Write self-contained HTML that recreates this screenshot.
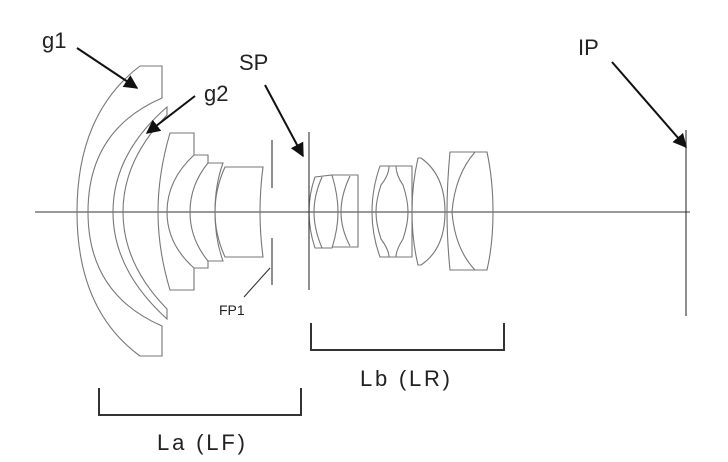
<!DOCTYPE html>
<html><head><meta charset="utf-8"><style>
html,body{margin:0;padding:0;background:#fff;}
svg{display:block;}
text{font-family:"Liberation Sans","Noto Sans CJK JP",sans-serif;fill:#222;}
</style></head><body>
<svg width="728" height="462" viewBox="0 0 728 462" xmlns="http://www.w3.org/2000/svg">
<defs><marker id="ah" viewBox="0 0 10 10" refX="9" refY="5" markerWidth="7" markerHeight="7" orient="auto"><path d="M0,0 L10,5 L0,10 z" fill="#111"/></marker></defs>
<line x1="35" y1="212" x2="690" y2="212" stroke="#333" stroke-width="1"/>
<g fill="none" stroke="#777" stroke-width="1.1">
<path d="M140,66 L162,66 L162,98 Q88,130 88,212 Q88,294 162,326 L162,356 L140,356 Q77,310 77,212 Q77,114 140,66 Z"/>
<path d="M167,107 L167,115 Q123,160 123,212 Q123,264 167,309 L167,319 Q113,270 113,212 Q113,154 167,107 Z"/>
<path d="M170,133 L194,133 L194,155 Q167,180 167,212 Q167,244 194,268 L194,290 L170,290 Q158,250 158,212 Q158,174 170,133 Z"/>
<path d="M194,155 L208,155 L208,163 Q190,185 190,212 Q190,239 208,261 L208,268 L194,268"/>
<path d="M208,163 L223,163 Q215,185 215,212 Q215,239 223,261 L208,261"/>
<path d="M225,167 L263,167 Q260,190 260,212 Q260,234 263,257 L225,257 Q215,235 215,212 Q215,189 225,167 Z"/>
<path d="M315,177 L332,175 Q338,195 338,212 Q338,229 332,248 L315,248 Q309,230 309,212 Q309,194 315,177 Z"/>
<path d="M322,177 Q314,195 314,212 Q314,229 322,248"/>
<path d="M332,175 L358,175 L358,247 L332,247"/>
<path d="M350,176 Q341,195 341,212 Q341,229 350,246"/>
<path d="M380,166 L412,166 L412,257 L380,257 Q372,235 372,212 Q372,189 380,166 Z"/>
<path d="M389,166 Q389,175 381,185 Q376,200 376,212 Q376,224 381,239 Q389,250 389,257"/>
<path d="M396,166 Q396,175 403,185 Q408,200 408,212 Q408,224 403,239 Q396,250 396,257"/>
<path d="M421,158 Q445,175 445,212 Q445,249 421,265 L418,265 Q412,240 412,212 Q412,184 418,158 Z"/>
<path d="M450,152 L487,152 Q493,180 493,212 Q493,244 487,270 L450,270 Q447,240 447,212 Q447,184 450,152 Z"/>
<path d="M475,152 Q455,175 452,212 Q455,249 475,270"/>
</g>
<g stroke="#333" stroke-width="1.1" fill="none">
<line x1="272" y1="140" x2="272" y2="188"/>
<line x1="272" y1="238" x2="272" y2="285"/>
<line x1="270" y1="268" x2="244" y2="297"/>
<line x1="309" y1="132" x2="309" y2="290"/>
<line x1="686" y1="130" x2="686" y2="316"/>
</g>
<g stroke="#111" stroke-width="2" fill="none" marker-end="url(#ah)">
<line x1="77" y1="48" x2="137" y2="88"/>
<line x1="195" y1="96" x2="147" y2="133"/>
<line x1="265" y1="85" x2="303" y2="156"/>
<line x1="612" y1="62" x2="686" y2="147"/>
</g>
<g stroke="#333" stroke-width="2" fill="none">
<path d="M99,388 L99,415 L301,415 L301,388"/>
<path d="M311,323 L311,350 L504,350 L504,323"/>
</g>
<text x="42" y="48" font-size="22">g1</text>
<text x="204" y="101" font-size="22">g2</text>
<text x="239" y="70" font-size="22">SP</text>
<text x="578" y="55" font-size="22">IP</text>
<text x="219" y="315" font-size="14">FP1</text>
<text x="157" y="450" font-size="22" textLength="88">La (LF)</text>
<text x="360" y="386" font-size="22" textLength="90">Lb (LR)</text>
</svg>
</body></html>
